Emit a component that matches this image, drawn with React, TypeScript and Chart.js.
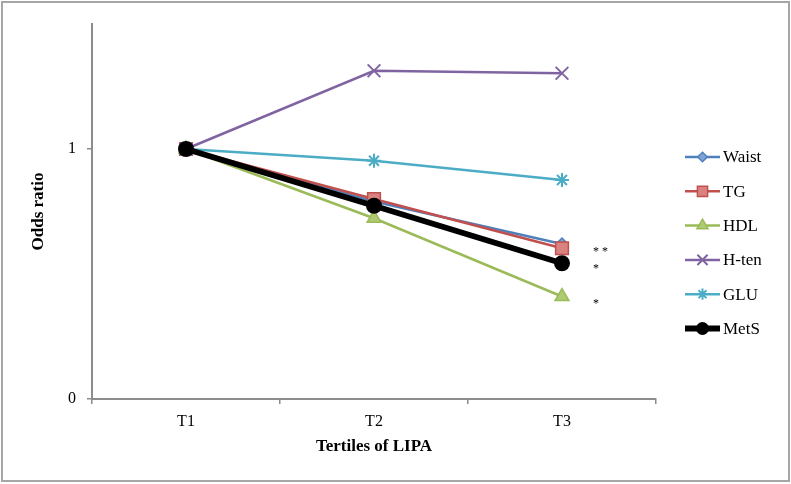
import React, { useEffect, useRef } from 'react';
import { Chart, registerables } from 'chart.js';

Chart.register(...registerables);

// ---- data ----
const categories = ['T1', 'T2', 'T3'];
const seriesNames = ['Waist', 'TG', 'HDL', 'H-ten', 'GLU', 'MetS'];
const waistValues = [1, 0.79, 0.62];
const tgValues = [1, 0.8, 0.603];
const hdlValues = [1, 0.723, 0.41];
const htenValues = [1, 1.313, 1.303];
const gluValues = [1, 0.953, 0.876];
const metsValues = [1, 0.773, 0.543];
const yTickValues = [0, 1];
const yMin = 0;
const yMax = 1.5;
const sigLabels = ['* *', '*', '*'];
const sigValues = [0.59, 0.52, 0.38];
const xTitle = 'Tertiles of LIPA';
const yTitle = 'Odds ratio';

const FONT = "'Liberation Serif', 'Times New Roman', serif";

const styles = [
  { color: '#4F81BD', fill: '#7FA3D6', point: 'rectRot', radius: 6, width: 2.5, pbw: 1.5 },
  { color: '#C0504D', fill: '#D9827F', point: 'rect', radius: 9, width: 2.5, pbw: 1.5 },
  { color: '#9BBB59', fill: '#AECB73', point: 'triangle', radius: 8, width: 2.5, pbw: 1.5 },
  { color: '#8064A2', fill: '#8064A2', point: 'crossRot', radius: 9, width: 2.5, pbw: 2 },
  { color: '#4BACC6', fill: '#4BACC6', point: 'star', radius: 7, width: 2.5, pbw: 2 },
  { color: '#000000', fill: '#000000', point: 'circle', radius: 7, width: 6, pbw: 2 },
];

const seriesValues = [waistValues, tgValues, hdlValues, htenValues, gluValues, metsValues];

function drawMarker(ctx: CanvasRenderingContext2D, style: string, x: number, y: number, r: number) {
  ctx.beginPath();
  switch (style) {
    case 'rectRot':
      ctx.moveTo(x, y - r); ctx.lineTo(x + r, y); ctx.lineTo(x, y + r); ctx.lineTo(x - r, y); ctx.closePath();
      ctx.fill(); ctx.stroke(); break;
    case 'rect': {
      const s = Math.SQRT1_2 * r;
      ctx.rect(x - s, y - s, 2 * s, 2 * s); ctx.fill(); ctx.stroke(); break;
    }
    case 'triangle': {
      ctx.moveTo(x, y - r);
      const a1 = (2 * Math.PI) / 3;
      ctx.lineTo(x + Math.sin(a1) * r, y - Math.cos(a1) * r);
      ctx.lineTo(x + Math.sin(2 * a1) * r, y - Math.cos(2 * a1) * r);
      ctx.closePath(); ctx.fill(); ctx.stroke(); break;
    }
    case 'crossRot': {
      const s = Math.SQRT1_2 * r;
      ctx.moveTo(x - s, y - s); ctx.lineTo(x + s, y + s);
      ctx.moveTo(x + s, y - s); ctx.lineTo(x - s, y + s);
      ctx.stroke(); break;
    }
    case 'star': {
      const s = Math.SQRT1_2 * r;
      ctx.moveTo(x - s, y - s); ctx.lineTo(x + s, y + s);
      ctx.moveTo(x + s, y - s); ctx.lineTo(x - s, y + s);
      ctx.moveTo(x, y - r); ctx.lineTo(x, y + r);
      ctx.stroke(); break;
    }
    default:
      ctx.arc(x, y, r, 0, Math.PI * 2); ctx.fill(); ctx.stroke();
  }
}

const decorPlugin = {
  id: 'decor',
  beforeDraw(chart: any) {
    const ctx = chart.ctx;
    ctx.save();
    ctx.fillStyle = '#ffffff';
    ctx.fillRect(0, 0, chart.width, chart.height);
    ctx.strokeStyle = '#A6A6A6';
    ctx.lineWidth = 2;
    ctx.strokeRect(2, 2, chart.width - 4, chart.height - 5);
    ctx.restore();
  },
  afterDraw(chart: any) {
    const ctx = chart.ctx;
    ctx.save();
    const xs = chart.scales.x;
    const ys = chart.scales.y;
    ctx.fillStyle = '#000';
    ctx.font = `12px ${FONT}`;
    ctx.textAlign = 'left';
    ctx.textBaseline = 'middle';
    sigLabels.forEach((t, i) => {
      ctx.fillText(t, xs.getPixelForValue(categories.length - 1) + 31, ys.getPixelForValue(sigValues[i]));
    });
    const lx0 = 685, lx1 = 720, ly0 = 157, step = 34.3;
    chart.data.datasets.forEach((ds: any, i: number) => {
      const st = styles[i];
      const y = ly0 + i * step;
      ctx.strokeStyle = st.color;
      ctx.lineWidth = st.width;
      ctx.beginPath();
      ctx.moveTo(lx0, y); ctx.lineTo(lx1, y); ctx.stroke();
      ctx.fillStyle = st.fill;
      ctx.lineWidth = st.pbw;
      drawMarker(ctx, st.point, (lx0 + lx1) / 2, y, st.point === 'circle' ? 5.5 : st.radius * 0.8);
      ctx.fillStyle = '#000';
      ctx.font = `17px ${FONT}`;
      ctx.textAlign = 'left';
      ctx.textBaseline = 'middle';
      ctx.fillText(ds.label, lx1 + 3, y + 1);
    });
    ctx.restore();
  },
};

export default function App() {
  const ref = useRef<HTMLCanvasElement | null>(null);
  useEffect(() => {
    if (!ref.current) return;
    const datasets = seriesNames.map((name, i) => ({
      label: name,
      data: seriesValues[i],
      borderColor: styles[i].color,
      backgroundColor: styles[i].fill,
      borderWidth: styles[i].width,
      pointStyle: styles[i].point,
      pointRadius: styles[i].radius,
      pointBorderWidth: styles[i].pbw,
      pointBorderColor: styles[i].color,
      pointBackgroundColor: styles[i].fill,
      tension: 0,
      order: seriesNames.length - i,
    }));
    const chart = new Chart(ref.current, {
      type: 'line',
      data: { labels: categories, datasets },
      plugins: [decorPlugin],
      options: {
        animation: false,
        responsive: false,
        layout: { padding: { left: 0, right: 135, top: 24, bottom: 0 } },
        plugins: { legend: { display: false }, tooltip: { enabled: false } },
        scales: {
          x: {
            type: 'category',
            offset: true,
            grid: { display: true, drawOnChartArea: false, drawTicks: true, tickLength: 5, offset: true, color: '#8C8C8C', lineWidth: 1.5 },
            border: { display: true, color: '#8C8C8C', width: 2 },
            ticks: { color: '#000', font: { family: FONT, size: 16 }, padding: 8 },
            title: { display: true, text: xTitle, color: '#000', font: { family: FONT, size: 17, weight: 'bold' }, padding: { top: 0, bottom: 27 } },
            afterFit: (s: any) => { s.height = 85; },
          },
          y: {
            min: yMin,
            max: yMax,
            afterBuildTicks: (s: any) => { s.ticks = yTickValues.map((v) => ({ value: v })); },
            grid: { display: true, drawOnChartArea: false, drawTicks: true, tickLength: 5, color: '#8C8C8C', lineWidth: 1.5 },
            border: { display: true, color: '#8C8C8C', width: 2 },
            ticks: { color: '#000', font: { family: FONT, size: 16 }, padding: 11, callback: (v: any) => String(v) },
            title: { display: true, text: yTitle, color: '#000', font: { family: FONT, size: 17, weight: 'bold' }, padding: { top: 28, bottom: 0 } },
            afterFit: (s: any) => { s.width = 92; },
          },
        },
      } as any,
    });
    return () => chart.destroy();
  }, []);
  return (
    <div style={{ position: 'fixed', left: 0, top: 0, width: 791, height: 484 }}>
      <canvas ref={ref} width={791} height={484} style={{ display: 'block' }} />
    </div>
  );
}
